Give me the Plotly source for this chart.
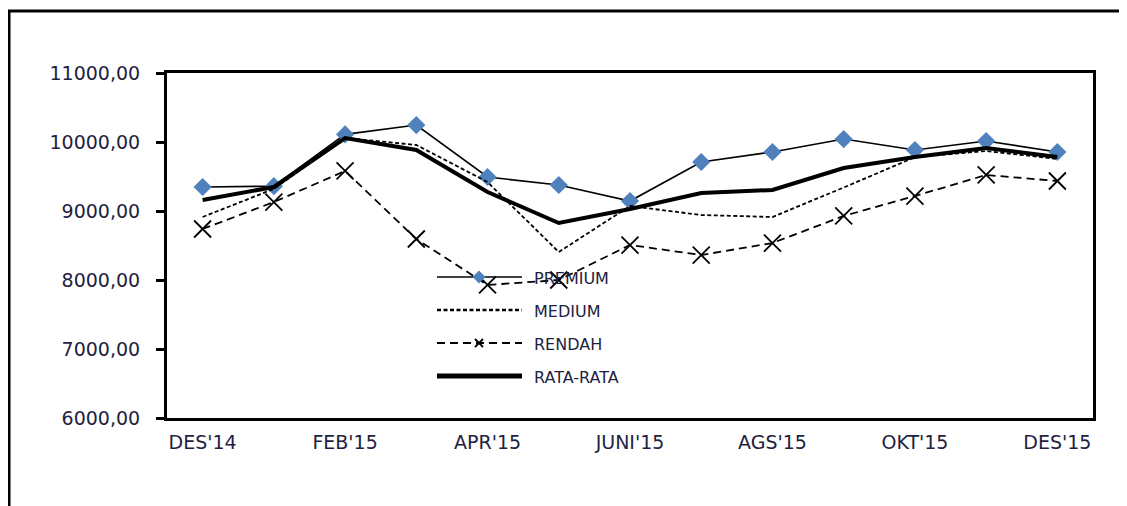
import plotly.graph_objects as go

# ---- data ----
months = ["DES'14", "JAN'15", "FEB'15", "MAR'15", "APR'15", "MEI'15", "JUNI'15",
          "JULI'15", "AGS'15", "SEP'15", "OKT'15", "NOV'15", "DES'15"]
tick_labels = ["DES'14", "FEB'15", "APR'15", "JUNI'15", "AGS'15", "OKT'15", "DES'15"]
premium = [9348, 9360, 10110, 10246, 9493, 9377, 9145, 9710, 9855, 10043, 9884, 10014, 9855]
medium = [8913, 9320, 10060, 9957, 9420, 8406, 9072, 8942, 8913, 9340, 9780, 9870, 9754]
rendah = [8739, 9130, 9580, 8594, 7928, 8000, 8507, 8362, 8536, 8928, 9217, 9522, 9435]
rata_rata = [9159, 9348, 10058, 9884, 9275, 8826, 9029, 9261, 9304, 9623, 9783, 9913, 9783]
legend_names = ["PREMIUM", "MEDIUM", "RENDAH", "RATA-RATA"]

# ---- layout constants (page pixels; page body has an 8px margin) ----
OFF = 8
W, H = 1127 - OFF, 506 - OFF
L, T = 167 - OFF, 73 - OFF
R, B = 1127 - 1093, 506 - 418
PW, PH = W - L - R, H - T - B
TXT = "#1e2240"
FONT = "DejaVu Sans, Liberation Sans, Arial, sans-serif"


def px(x):
    return (x - OFF - L) / PW


def py(y):
    return (H - B - (y - OFF)) / PH


fig = go.Figure()
fig.add_trace(go.Scatter(x=months, y=premium, name=legend_names[0], mode="lines+markers",
                         line=dict(color="black", width=1.7),
                         marker=dict(symbol="diamond", size=14, color="#4F81BD")))
fig.add_trace(go.Scatter(x=months, y=medium, name=legend_names[1], mode="lines",
                         line=dict(color="black", width=1.8, dash="4px,2.5px")))
fig.add_trace(go.Scatter(x=months, y=rendah, name=legend_names[2], mode="lines+markers",
                         line=dict(color="black", width=1.8, dash="8px,5px"),
                         marker=dict(symbol="x-thin-open", size=17,
                                     line=dict(color="black", width=1.8))))
fig.add_trace(go.Scatter(x=months, y=rata_rata, name=legend_names[3], mode="lines",
                         line=dict(color="black", width=4)))

shapes = []
annotations = []
# outer border (top and left only)
shapes.append(dict(type="path", xref="paper", yref="paper",
                   path=f"M {px(1140)},{py(11)} L {px(9)},{py(11)} L {px(9)},{py(520)}",
                   line=dict(color="black", width=3)))

# manual legend
rows = [277, 310, 343, 376]
x0, x1, xm = 437, 522, 479
styles = [dict(width=1.7, dash="solid"), dict(width=2.6, dash="4px,2.5px"),
          dict(width=1.8, dash="8px,5px"), dict(width=5, dash="solid")]
for name, yrow, st in zip(legend_names, rows, styles):
    shapes.append(dict(type="line", xref="paper", yref="paper",
                       x0=px(x0), x1=px(x1), y0=py(yrow), y1=py(yrow),
                       line=dict(color="black", width=st["width"], dash=st["dash"])))
    annotations.append(dict(xref="paper", yref="paper", x=px(532), y=py(yrow + 1),
                            xanchor="left", yanchor="middle", showarrow=False,
                            text=name, font=dict(family=FONT, size=16, color=TXT)))
# diamond for premium
d = 6.5
yr = rows[0]
shapes.append(dict(type="path", xref="paper", yref="paper",
                   path=(f"M {px(xm)},{py(yr - d)} L {px(xm + d)},{py(yr)} "
                         f"L {px(xm)},{py(yr + d)} L {px(xm - d)},{py(yr)} Z"),
                   fillcolor="#4F81BD", line=dict(width=0)))
# small x for rendah
s = 4
yr = rows[2]
shapes.append(dict(type="path", xref="paper", yref="paper",
                   path=(f"M {px(xm - s)},{py(yr - s)} L {px(xm + s)},{py(yr + s)} "
                         f"M {px(xm - s)},{py(yr + s)} L {px(xm + s)},{py(yr - s)}"),
                   line=dict(color="black", width=1.8)))

fig.update_layout(
    width=W, height=H,
    margin=dict(l=L, r=R, t=T, b=B, pad=0),
    paper_bgcolor="white", plot_bgcolor="white",
    showlegend=False,
    separators=",.",
    font=dict(family=FONT, color=TXT),
    shapes=shapes, annotations=annotations,
    xaxis=dict(type="category", categoryorder="array", categoryarray=months,
               range=[-0.5, len(months) - 0.5],
               tickvals=tick_labels, ticktext=tick_labels,
               showline=True, linecolor="black", linewidth=3, mirror=True,
               showgrid=False, zeroline=False, ticks="",
               ticklabelstandoff=5,
               tickfont=dict(family=FONT, size=19, color=TXT)),
    yaxis=dict(range=[6000, 11000], dtick=1000, tickformat=".2f",
               showline=True, linecolor="black", linewidth=3, mirror=True,
               showgrid=False, zeroline=False,
               ticks="outside", ticklen=8, tickwidth=2.5, tickcolor="black",
               ticklabelstandoff=12,
               tickfont=dict(family=FONT, size=19, color=TXT)),
)

fig.write_html("out.html")
